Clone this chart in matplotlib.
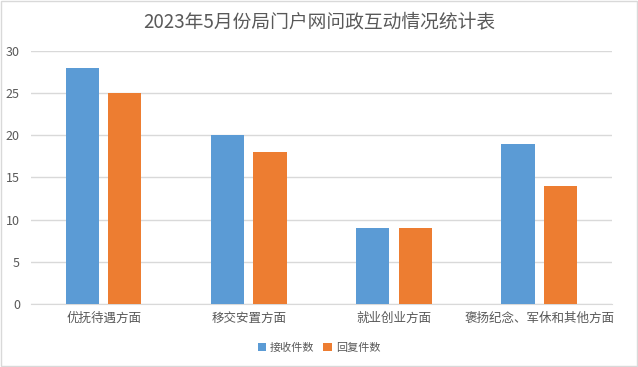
import numpy as np
import matplotlib.pyplot as plt
from matplotlib.patches import Rectangle

plt.rcParams['font.family'] = ['Noto Sans CJK SC', 'DejaVu Sans']

categories = ['优抚待遇方面', '移交安置方面', '就业创业方面', '褒扬纪念、军休和其他方面']
received = [28, 20, 9, 19]
replied = [25, 18, 9, 14]
series_names = ['接收件数', '回复件数']

text_color = '#595959'
grid_color = '#d9d9d9'

fig = plt.figure(figsize=(6.38, 3.67), dpi=100)
ax = fig.add_axes([0.0486, 0.1717, 0.9104, 0.6893])

x = np.arange(len(categories))
w = 0.228
off = 0.146
ax.bar(x - off, received, w, color='#5B9BD5', label=series_names[0], zorder=3)
ax.bar(x + off, replied, w, color='#ED7D31', label=series_names[1], zorder=3)

ax.set_xlim(-0.5, len(categories) - 0.5)
ax.set_ylim(0, 30)
ax.set_yticks(range(0, 31, 5))
ax.set_xticks(x)
ax.set_xticklabels(categories)
ax.yaxis.grid(True, color=grid_color, linewidth=1, zorder=0)
for s in ['top', 'right', 'left']:
    ax.spines[s].set_visible(False)
ax.spines['bottom'].set_color(grid_color)
ax.tick_params(axis='both', length=0, colors=text_color, labelsize=9)
ax.tick_params(axis='x', pad=6)
ax.tick_params(axis='y', pad=8)

fig.text(0.5, 0.94, '2023年5月份局门户网问政互动情况统计表', ha='center', va='center',
         fontsize=13.5, color=text_color)

fig.legend(loc='center', bbox_to_anchor=(0.5, 0.052), ncol=2, frameon=False,
           fontsize=8, labelcolor=text_color, handlelength=0.75, handleheight=0.75,
           handletextpad=0.35, columnspacing=0.8)

# outer border
fig.patches.append(Rectangle((0.001, 0.002), 0.997, 0.995, transform=fig.transFigure,
                             fill=False, edgecolor='#d9d9d9', linewidth=1))

fig.savefig('out.png', dpi=100)
